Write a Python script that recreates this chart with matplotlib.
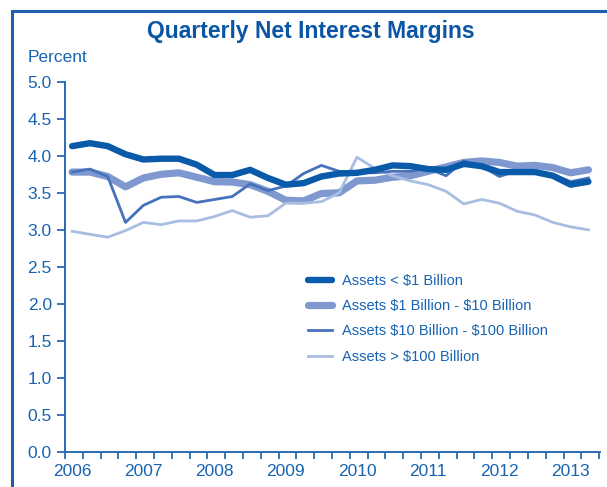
import numpy as np
import matplotlib
matplotlib.use('Agg')
import matplotlib.pyplot as plt
from matplotlib.patches import Rectangle

plt.rcParams['font.family'] = ['Liberation Sans Narrow', 'Liberation Sans', 'DejaVu Sans']

# quarterly values 2006Q1 .. 2013Q2
quarters = np.arange(30)
years = ['2006', '2007', '2008', '2009', '2010', '2011', '2012', '2013']

under_1b = [4.13, 4.17, 4.13, 4.02, 3.95, 3.96, 3.96, 3.88,
            3.74, 3.74, 3.81, 3.70, 3.61, 3.63, 3.72, 3.76,
            3.77, 3.81, 3.87, 3.86, 3.82, 3.81, 3.89, 3.86,
            3.78, 3.78, 3.78, 3.73, 3.61, 3.65]
b1_10 = [3.78, 3.78, 3.72, 3.58, 3.70, 3.75, 3.77, 3.71,
         3.65, 3.645, 3.61, 3.52, 3.40, 3.39, 3.49, 3.50,
         3.66, 3.67, 3.71, 3.73, 3.79, 3.85, 3.91, 3.93,
         3.91, 3.86, 3.87, 3.84, 3.77, 3.81]
b10_100 = [3.78, 3.82, 3.72, 3.10, 3.33, 3.44, 3.45, 3.37,
           3.41, 3.45, 3.62, 3.53, 3.59, 3.76, 3.87, 3.79,
           3.77, 3.77, 3.79, 3.79, 3.83, 3.73, 3.93, 3.86,
           3.72, 3.80, 3.80, 3.75, 3.65, 3.70]
over_100b = [2.98, 2.94, 2.90, 2.99, 3.10, 3.07, 3.12, 3.12,
             3.18, 3.26, 3.17, 3.19, 3.36, 3.36, 3.38, 3.50,
             3.98, 3.83, 3.73, 3.66, 3.61, 3.52, 3.35, 3.41,
             3.36, 3.25, 3.20, 3.10, 3.04, 3.00]

txt = '#1763b2'
axc = '#2a6ab3'

fig = plt.figure(figsize=(6.07, 4.87), dpi=100)
fig.add_artist(Rectangle((12/607, -0.2), 1.0, 1.2 - 11/487, transform=fig.transFigure,
                         fill=False, edgecolor='#1f5fad', linewidth=2.2))
ax = fig.add_axes([65/607, 0.0719, 535/607, 0.7603])

ax.plot(quarters, b1_10, color='#7f99d0', lw=5.2, solid_capstyle='round',
        label='Assets \\$1 Billion - \\$10 Billion', zorder=2)
ax.plot(quarters, over_100b, color='#a9bde3', lw=2.0, label='Assets > \\$100 Billion', zorder=3)
ax.plot(quarters, b10_100, color='#4672bd', lw=2.0,
        label='Assets \\$10 Billion - \\$100 Billion', zorder=4)
ax.plot(quarters, under_1b, color='#0a5aaa', lw=4.6, solid_capstyle='round',
        label='Assets < \\$1 Billion', zorder=5)

ax.set_xlim(-0.4, 29.65)
ax.set_ylim(0, 5.0)
ax.set_yticks(np.arange(0, 5.01, 0.5))
ax.set_yticklabels(['%.1f' % v for v in np.arange(0, 5.01, 0.5)])
ax.set_xticks(np.arange(0, 29, 4))
ax.set_xticklabels(years)
ax.set_xticks(np.arange(31) - 0.4, minor=True)
ax.tick_params(axis='x', which='major', length=0, pad=9, labelsize=12.5, colors=txt)
ax.tick_params(axis='x', which='minor', length=5, width=1.3, direction='out', color=axc)
ax.tick_params(axis='y', length=5.5, width=1.3, pad=4, labelsize=12.5, colors=txt, color=axc)
for s in ['top', 'right']:
    ax.spines[s].set_visible(False)
for s in ['left', 'bottom']:
    ax.spines[s].set_color(axc)
    ax.spines[s].set_linewidth(1.4)

fig.text(0.512, 0.936, 'Quarterly Net Interest Margins', ha='center', va='center',
         fontsize=16.5, fontweight='bold', color='#0b56a4')
fig.text(28/607, 1 - 58/487, 'Percent', ha='left', va='center', fontsize=12.5, color=txt)

h, l = ax.get_legend_handles_labels()
order = [3, 0, 2, 1]
leg = ax.legend([h[i] for i in order], [l[i] for i in order], loc='upper left',
                bbox_to_anchor=(0.43, 0.517), frameon=False, fontsize=10.5,
                handlelength=1.65, handletextpad=0.65, labelspacing=0.78)
for t in leg.get_texts():
    t.set_color(txt)

fig.savefig('out.png', dpi=100)
